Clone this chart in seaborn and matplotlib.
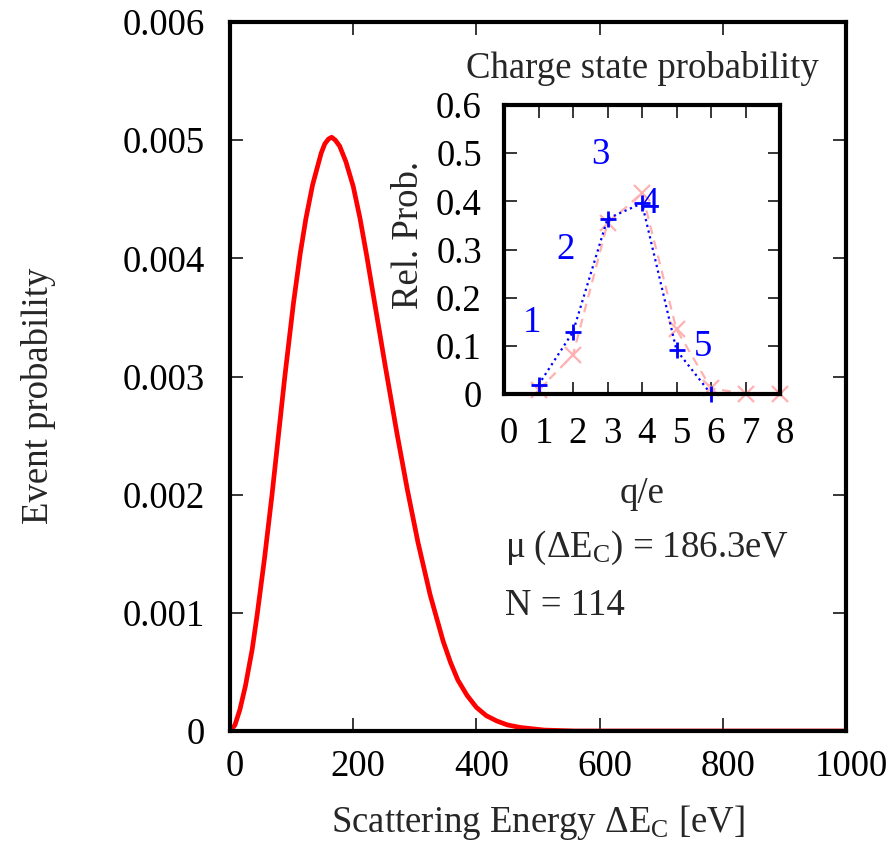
import matplotlib

matplotlib.use("Agg")
import matplotlib.pyplot as plt
import seaborn as sns
from matplotlib.transforms import ScaledTranslation


# main curve
energy_ev = [0, 8, 16, 25, 36, 44, 56, 68, 78, 89, 103, 114, 123, 134, 148,
             154, 160, 165, 171, 178, 188, 200, 211, 222, 232, 242, 252, 262,
             271, 288, 305, 325, 346, 358, 370, 385, 400, 416, 433, 450, 471,
             510, 560, 1000]
event_prob = [0.0, 0.00005, 0.00018, 0.00038, 0.00069, 0.00098, 0.00146,
              0.00199, 0.00247, 0.00300, 0.00362, 0.00404, 0.00433, 0.00462,
              0.00489, 0.00497, 0.00501, 0.005025, 0.00500, 0.00495, 0.00482,
              0.00461, 0.00434, 0.00402, 0.00371, 0.00340, 0.00309, 0.00279,
              0.00252, 0.00204, 0.00160, 0.00115, 0.00076, 0.00058, 0.00043,
              0.00030, 0.00020, 0.00013, 0.000085, 0.000052, 0.000030,
              0.000008, 0.0, 0.0]

# inset: charge state probabilities
charge_blue = [1, 2, 3, 4, 5, 6]
prob_blue = [0.019, 0.129, 0.364, 0.396, 0.091, 0.0]
charge_pink = [1, 2, 3, 4, 5, 6, 7, 8]
prob_pink = [0.008, 0.081, 0.354, 0.417, 0.134, 0.012, 0.0, 0.0]
state_labels = ["1", "2", "3", "4", "5"]
state_label_x = [0.8, 1.79, 2.78, 4.23, 5.76]
state_label_y = [0.147, 0.299, 0.496, 0.396, 0.098]

main_xticks = [0, 200, 400, 600, 800, 1000]
main_yticks = [0, 0.001, 0.002, 0.003, 0.004, 0.005, 0.006]
main_yticklabels = ["0", "0.001", "0.002", "0.003", "0.004", "0.005", "0.006"]
inset_xticks = [0, 1, 2, 3, 4, 5, 6, 7, 8]
inset_yticks = [0, 0.1, 0.2, 0.3, 0.4, 0.5, 0.6]
inset_yticklabels = ["0", "0.1", "0.2", "0.3", "0.4", "0.5", "0.6"]

sns.set_theme(style="ticks")
plt.rcParams["font.family"] = ["Liberation Serif", "DejaVu Serif"]
plt.rcParams["mathtext.fontset"] = "custom"
plt.rcParams["mathtext.rm"] = "Liberation Serif"
plt.rcParams["mathtext.it"] = "Liberation Serif:italic"
plt.rcParams["font.size"] = 26.5

FS = 26.5
BLUE = "#0000ff"
PINK = "#ffb0b0"

fig = plt.figure(figsize=(8.91, 8.48), dpi=100)
ax = fig.add_axes([230 / 891, 117 / 848, 616 / 891, 709 / 848])
ax_in = fig.add_axes([504 / 891, 454 / 848, 276 / 891, 289 / 848])

shift = ScaledTranslation(5 / 100, 0, fig.dpi_scale_trans)

# main panel
sns.lineplot(x=energy_ev, y=event_prob, ax=ax, color="red", lw=3.4,
             sort=False, solid_joinstyle="round", solid_capstyle="round")
ax.set_xlim(0, 1000)
ax.set_ylim(0, 0.006)
ax.set_xticks(main_xticks)
ax.set_xticklabels([str(t) for t in main_xticks], fontsize=FS)
ax.set_yticks(main_yticks)
ax.set_yticklabels(main_yticklabels, fontsize=FS)
ax.tick_params(direction="in", length=9.5, width=1.1, top=True, right=True,
               color="black", labelcolor="black")
ax.tick_params(axis="y", pad=18)
ax.tick_params(axis="x", pad=13)
for lab in ax.get_xticklabels():
    lab.set_transform(lab.get_transform() + shift)
for sp in ax.spines.values():
    sp.set_linewidth(3)
    sp.set_color("black")
    sp.set_visible(True)
ax.set_xlabel(r"Scattering Energy $\mathrm{\Delta E_C}$ [eV]", fontsize=FS)
ax.xaxis.set_label_coords(0.5, -0.1425)
ax.xaxis.label.set_va("baseline")
ax.set_ylabel("Event probability", fontsize=FS)
ax.yaxis.set_label_coords(-0.2825, 0.4725)

fig.text(505 / 891, 1 - 557 / 848, r"μ ($\mathrm{\Delta E_C}$) = 186.3eV",
         fontsize=FS, ha="left", va="baseline")
fig.text(505 / 891, 1 - 615 / 848, "N = 114", fontsize=FS, ha="left",
         va="baseline")

# inset panel
sns.lineplot(x=charge_pink, y=prob_pink, ax=ax_in, color=PINK, lw=1.6,
             linestyle=(0, (4, 3)), marker="x", markersize=11,
             markeredgewidth=1.6, markeredgecolor=PINK, clip_on=False)
sns.lineplot(x=charge_blue, y=prob_blue, ax=ax_in, color=BLUE, lw=1.6,
             linestyle=":", marker="+", markersize=12, markeredgewidth=2,
             markeredgecolor=BLUE, clip_on=False)
for s, qx, qy in zip(state_labels, state_label_x, state_label_y):
    ax_in.text(qx, qy, s, color=BLUE, fontsize=FS, ha="center", va="center")
ax_in.set_xlim(0, 8)
ax_in.set_ylim(0, 0.6)
ax_in.set_xticks(inset_xticks)
ax_in.set_xticklabels([str(t) for t in inset_xticks], fontsize=FS)
ax_in.set_yticks(inset_yticks)
ax_in.set_yticklabels(inset_yticklabels, fontsize=FS)
ax_in.tick_params(direction="in", length=9, width=1.1, top=True, right=True,
                  color="black", labelcolor="black")
ax_in.tick_params(axis="y", pad=16)
ax_in.tick_params(axis="x", pad=16)
for lab in ax_in.get_xticklabels():
    lab.set_transform(lab.get_transform() + shift)
for sp in ax_in.spines.values():
    sp.set_linewidth(3)
    sp.set_color("black")
    sp.set_visible(True)
ax_in.set_xlabel("q/e", fontsize=FS)
ax_in.xaxis.set_label_coords(0.5, -0.377)
ax_in.xaxis.label.set_va("baseline")
ax_in.set_ylabel("Rel. Prob.", fontsize=FS)
ax_in.yaxis.set_label_coords(-0.283, 0.55)
ax_in.set_title("Charge state probability", fontsize=FS, y=1.093, va="baseline",
                pad=0)

fig.savefig("out.png", dpi=100)
